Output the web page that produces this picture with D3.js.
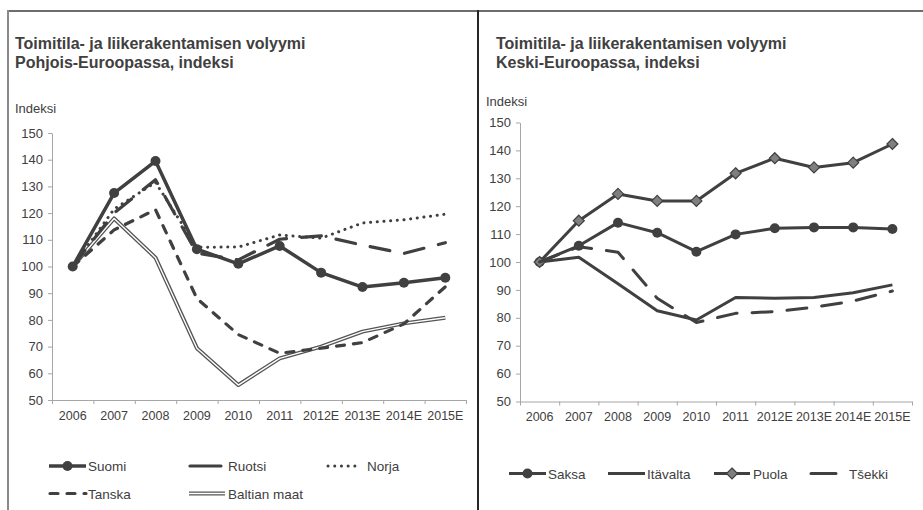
<!DOCTYPE html>
<html>
<head>
<meta charset="utf-8">
<script src="https://cdn.jsdelivr.net/npm/d3@7"></script>
<style>
  body { margin: 0; background: #fff; }
  text { font-family: "Liberation Sans", Arial, sans-serif; fill: #404040; }
</style>
</head>
<body>
<svg id="chart" width="923" height="510"></svg>
<script>
// categories
var years = ['2006', '2007', '2008', '2009', '2010', '2011', '2012E', '2013E', '2014E', '2015E']
var yTicks = [50, 60, 70, 80, 90, 100, 110, 120, 130, 140, 150]

// Pohjois-Eurooppa
var suomi = [100, 127.5, 139.5, 106.5, 101, 107.7, 97.7, 92.3, 93.9, 95.8]
var ruotsi = [100, 120, 132.5, 105, 102.5, 110.2, 111.5, 108, 104.9, 108.9]
var norja = [100, 121.5, 131.5, 107.2, 107.3, 111.8, 110.6, 116.3, 117.5, 119.6]
var tanska = [100, 113.7, 121.3, 88, 74.5, 67.5, 69.4, 71.5, 78.5, 92.4]
var baltia = [100, 118, 103.3, 69.4, 55.6, 65.6, 70, 75.6, 78.7, 80.8]

// Keski-Eurooppa
var saksa = [100, 105.8, 114.1, 110.5, 103.7, 109.9, 112.1, 112.4, 112.4, 111.8]
var itavalta = [100, 101.7, 92.2, 82.5, 79.2, 87.3, 87, 87.3, 89, 91.8]
var puola = [100, 114.8, 124.4, 121.9, 121.9, 131.8, 137.2, 133.9, 135.6, 142.3]
var tsekki = [100, 105.5, 103.5, 87, 78.3, 81.6, 82.2, 83.8, 86, 89.6]

var svg = d3.select('#chart')
var dark = '#404040'

// frame
svg.append('line').attr('x1', 8).attr('x2', 923).attr('y1', 11).attr('y2', 11)
    .attr('stroke', '#6d6d6d').attr('stroke-width', 2)
svg.append('line').attr('x1', 8).attr('x2', 8).attr('y1', 10).attr('y2', 510)
    .attr('stroke', '#8a8a8a').attr('stroke-width', 2)
svg.append('line').attr('x1', 478).attr('x2', 478).attr('y1', 10).attr('y2', 510)
    .attr('stroke', '#262626').attr('stroke-width', 2)

function drawMarker (g, type, x, y) {
    if (type == 'circle') {
        g.append('circle').attr('cx', x).attr('cy', y).attr('r', 5).attr('fill', dark)
    } else if (type == 'diamond') {
        g.append('path').attr('transform', `translate(${x},${y})`)
            .attr('d', 'M0,-5.5L5.5,0L0,5.5L-5.5,0Z')
            .attr('fill', '#7f7f7f').attr('stroke', dark).attr('stroke-width', 1.2)
    }
}

function styleLine (path, s) {
    path.attr('fill', 'none')
        .attr('stroke', s.color || dark)
        .attr('stroke-width', s.width || 3)
        .attr('stroke-linecap', s.cap || 'butt')
        .attr('stroke-linejoin', 'round')
    if (s.dash) path.attr('stroke-dasharray', s.dash)
    return path
}

function drawPanel (cfg) {
    var g = svg.append('g')
    var x = d3.scaleBand().domain(years).range([cfg.left, cfg.right])
    var xEdge = d3.scaleLinear().domain([0, years.length]).range([cfg.left, cfg.right])
    var y = d3.scaleLinear().domain([50, 150]).range([cfg.bottom, cfg.top])

    // titles
    cfg.title.forEach(function (t, i) {
        g.append('text').attr('x', cfg.titleX).attr('y', 49 + i * 19)
            .attr('font-size', '16px').attr('font-weight', 'bold').text(t)
    })
    g.append('text').attr('x', cfg.unitX).attr('y', cfg.unitY)
        .attr('font-size', '13px').text('Indeksi')

    // axes
    var gy = g.append('g').attr('transform', `translate(${cfg.left},0)`)
        .call(d3.axisLeft(y).tickValues(yTicks).tickSize(4).tickPadding(5).tickSizeOuter(0))
    var gx = g.append('g').attr('transform', `translate(0,${cfg.bottom})`)
        .call(d3.axisBottom(xEdge).tickValues(d3.range(0, years.length + 1)).tickSize(4).tickSizeOuter(0).tickFormat(''))
    var gl = g.append('g').attr('transform', `translate(0,${cfg.bottom})`)
        .call(d3.axisBottom(x).tickSize(0).tickPadding(11))
    gl.select('.domain').remove()
    ;[gy, gx].forEach(function (a) {
        a.selectAll('.domain, line').attr('stroke', '#a6a6a6')
    })
    gy.selectAll('text').attr('font-size', '13px').attr('fill', dark).attr('font-family', null)
    gl.selectAll('text').attr('font-size', '12.5px').attr('fill', dark).attr('font-family', null)

    // series
    var line = d3.line()
        .x(function (d, i) { return x(years[i]) + x.bandwidth() / 2 })
        .y(function (d) { return y(d) })
    cfg.series.forEach(function (s) {
        styleLine(g.append('path').attr('d', line(s.values)), s)
        if (s.inner) {
            g.append('path').attr('d', line(s.values)).attr('fill', 'none')
                .attr('stroke', '#fff').attr('stroke-width', s.inner).attr('stroke-linejoin', 'round')
        }
        if (s.marker) {
            s.values.forEach(function (v, i) {
                drawMarker(g, s.marker, x(years[i]) + x.bandwidth() / 2, y(v))
            })
        }
    })

    // legend
    cfg.legend.forEach(function (l) {
        var s = cfg.series.find(function (d) { return d.name == l.name })
        var seg = styleLine(g.append('path').attr('d', `M${l.x1},${l.y}L${l.x2},${l.y}`), s)
        if (s.inner) {
            g.append('path').attr('d', `M${l.x1},${l.y}L${l.x2},${l.y}`)
                .attr('stroke', '#fff').attr('stroke-width', s.inner)
        }
        if (l.solid) seg.attr('stroke-dasharray', null)
        if (s.marker) drawMarker(g, s.marker, (l.x1 + l.x2) / 2, l.y)
        g.append('text').attr('x', l.tx).attr('y', l.y + 5)
            .attr('font-size', '13.5px').text(s.name)
    })
}

drawPanel({
    left: 52, right: 466, top: 133, bottom: 400,
    titleX: 15, unitX: 15, unitY: 113,
    title: ['Toimitila- ja liikerakentamisen volyymi', 'Pohjois-Euroopassa, indeksi'],
    series: [
        { name: 'Baltian maat', values: baltia, width: 4, inner: 1.4, color: '#555' },
        { name: 'Tanska', values: tanska, width: 3.2, dash: '8,9', cap: 'round' },
        { name: 'Norja', values: norja, width: 3, dash: '0.1,6.6', cap: 'round' },
        { name: 'Ruotsi', values: ruotsi, width: 3.2, dash: '20,15', cap: 'round' },
        { name: 'Suomi', values: suomi, width: 3.5, marker: 'circle' }
    ],
    legend: [
        { name: 'Suomi', x1: 49, x2: 86, y: 466, tx: 88 },
        { name: 'Ruotsi', x1: 190, x2: 221, y: 466, tx: 228, solid: true },
        { name: 'Norja', x1: 328, x2: 361, y: 466, tx: 367 },
        { name: 'Tanska', x1: 50, x2: 86, y: 493.5, tx: 88 },
        { name: 'Baltian maat', x1: 189, x2: 225, y: 493.5, tx: 228 }
    ]
})

drawPanel({
    left: 520, right: 912, top: 122.5, bottom: 401.5,
    titleX: 496, unitX: 486, unitY: 106,
    title: ['Toimitila- ja liikerakentamisen volyymi', 'Keski-Euroopassa, indeksi'],
    series: [
        { name: 'Saksa', values: saksa, width: 3, marker: 'circle' },
        { name: 'Itävalta', values: itavalta, width: 3 },
        { name: 'Puola', values: puola, width: 3, marker: 'diamond' },
        { name: 'Tšekki', values: tsekki, width: 3, dash: '20,15', cap: 'round' }
    ],
    legend: [
        { name: 'Saksa', x1: 509, x2: 546, y: 473.5, tx: 548 },
        { name: 'Itävalta', x1: 608, x2: 645, y: 473.5, tx: 647 },
        { name: 'Puola', x1: 714, x2: 750, y: 473.5, tx: 753 },
        { name: 'Tšekki', x1: 811, x2: 836, y: 473.5, tx: 849, solid: true }
    ]
})
</script>
</body>
</html>
